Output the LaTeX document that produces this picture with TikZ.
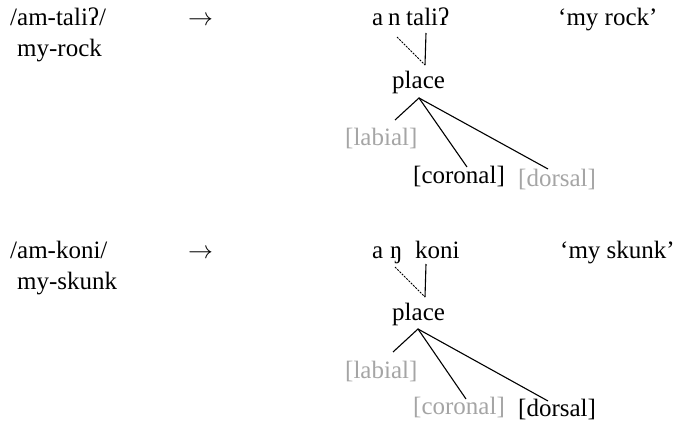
\documentclass[tikz,border=0pt]{standalone}
\usepackage{fontspec}
\setmainfont{Liberation Serif}
\definecolor{featgray}{RGB}{165,165,165}
\tikzset{
  txt/.style={inner sep=0pt, anchor=base west},
  assoc/.style={line width=1.1pt},
  spread/.style={line width=1pt, dash pattern=on 2pt off 1.2pt},
}
\begin{document}
\begin{tikzpicture}[x=1pt,y=-1pt,font=\fontsize{25}{30}\selectfont]
\useasboundingbox (0,0) rectangle (675,425);
% ---- top block ----
\node[txt] (ur1) at (10,26) {/am-taliʔ/};
\node[txt] (gl1) at (17,57) {my-rock};
\node[txt] (ar1) at (188,26) {$\rightarrow$};
\node[txt] (a1) at (372,26) {a};
\node[txt] (n1) at (388,26) {n};
\node[txt] (w1) at (406,26) {taliʔ};
\node[txt] (tr1) at (558,26) {‘my rock’};
\node[txt] (pl1) at (392,89) {place};
\node[txt,text=featgray] (lab1) at (345,146) {[labial]};
\node[txt] (cor1) at (413,184) {[coronal]};
\node[txt,text=featgray] (dor1) at (518,186) {[dorsal]};
\coordinate (ds1) at (397,37);
\coordinate (ss1) at (426,33);
\coordinate (v1) at (425,65);
\coordinate (ap1) at (419,98);
\coordinate (le1) at (395,120);
\coordinate (ce1) at (467,167);
\coordinate (de1) at (548,169);
\draw[spread] (ds1) -- (v1);
\draw[assoc] (ss1) -- (v1);
\draw[assoc] (le1) -- (ap1) -- (ce1);
\draw[assoc] (ap1) -- (de1);
% ---- bottom block ----
\node[txt] (ur2) at (10,258) {/am-koni/};
\node[txt] (gl2) at (17,289) {my-skunk};
\node[txt] (ar2) at (188,258) {$\rightarrow$};
\node[txt] (a2) at (372,258) {a};
\node[txt] (n2) at (390,258) {ŋ};
\node[txt] (w2) at (415,258) {koni};
\node[txt] (tr2) at (560,258) {‘my skunk’};
\node[txt] (pl2) at (392,320) {place};
\node[txt,text=featgray] (lab2) at (345,378) {[labial]};
\node[txt,text=featgray] (cor2) at (413,414) {[coronal]};
\node[txt] (dor2) at (518,416) {[dorsal]};
\coordinate (ds2) at (395,267);
\coordinate (ss2) at (426,264);
\coordinate (v2) at (425,297);
\coordinate (ap2) at (418,329);
\coordinate (le2) at (393,352);
\coordinate (ce2) at (466,399);
\coordinate (de2) at (548,401);
\draw[spread] (ds2) -- (v2);
\draw[assoc] (ss2) -- (v2);
\draw[assoc] (le2) -- (ap2) -- (ce2);
\draw[assoc] (ap2) -- (de2);
\end{tikzpicture}
\end{document}
